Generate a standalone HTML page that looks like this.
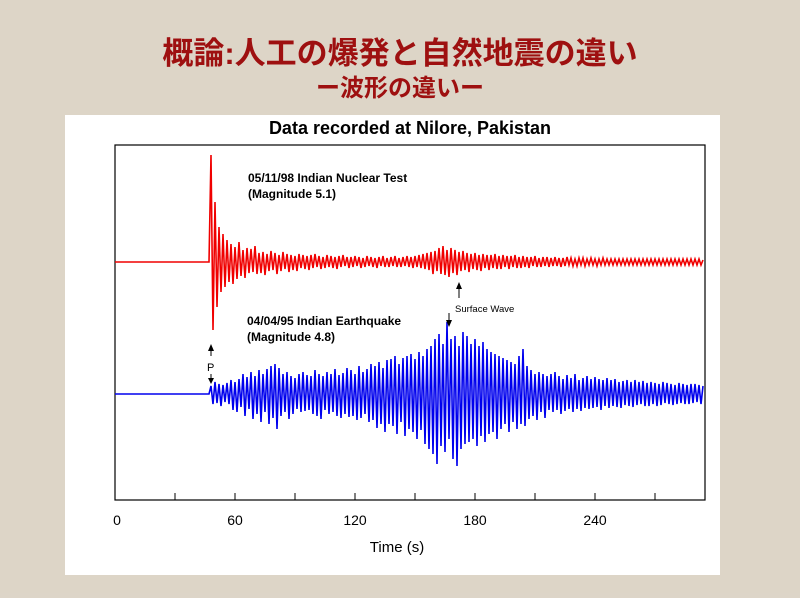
<!DOCTYPE html>
<html><head><meta charset="utf-8"><style>
body{margin:0;width:800px;height:593px;overflow:hidden;background:#ddd5c8;font-family:"Liberation Sans",sans-serif}
</style></head><body>
<svg width="800" height="593" xmlns="http://www.w3.org/2000/svg">
<rect x="0" y="0" width="800" height="593" fill="#ddd5c7"/>
<text x="400" y="64" text-anchor="middle" font-family="'Liberation Sans','Noto Sans CJK JP',sans-serif" font-size="31" fill="#9e1010" font-weight="bold">概論:人工の爆発と自然地震の違い</text>
<text x="400" y="96" text-anchor="middle" font-family="'Liberation Sans','Noto Sans CJK JP',sans-serif" font-size="24" fill="#9e1010" font-weight="bold">ー波形の違いー</text>
<rect x="65" y="115" width="655" height="460" fill="#fff"/>
<text x="410" y="134" text-anchor="middle" font-size="18" font-weight="bold" fill="#000">Data recorded at Nilore, Pakistan</text>
<rect x="115" y="145" width="590" height="355" fill="none" stroke="#000" stroke-width="1.2"/>
<g id="ticks"></g>
<g id="traces"></g>
<text x="248" y="182" font-size="12" font-weight="bold">05/11/98 Indian Nuclear Test</text>
<text x="248" y="198" font-size="12" font-weight="bold">(Magnitude 5.1)</text>
<text x="247" y="325" font-size="12" font-weight="bold">04/04/95 Indian Earthquake</text>
<text x="247" y="341" font-size="12" font-weight="bold">(Magnitude 4.8)</text>
<g>
<line x1="459" y1="284" x2="459" y2="298" stroke="#000"/><path d="M456,289 L459,282 L462,289Z"/>
<text x="455" y="312" font-size="9.5">Surface Wave</text>
<line x1="449" y1="313" x2="449" y2="325" stroke="#000"/><path d="M446,320 L449,327 L452,320Z"/>
</g>
<g>
<line x1="211" y1="346" x2="211" y2="356" stroke="#000"/><path d="M208,351 L211,344 L214,351Z"/>
<text x="207" y="371" font-size="11">P</text>
<line x1="211" y1="374" x2="211" y2="382" stroke="#000"/><path d="M208,378 L211,384 L214,378Z"/>
</g>
<text x="397" y="552" text-anchor="middle" font-size="15">Time (s)</text>
</svg>
<script>
const tickValues=[0,30,60,90,120,150,180,210,240,270];
const tickLabels=["0","","60","","120","","180","","240",""];
const traceStart=47;
const nuclearValues=[0,
107,-68,60,-45,35,-30,28,-25,22,-20,
18,-22,15,-17,20,-14,12,-16,14,-11,
13,-10,16,-12,9,-11,10,-13,8,-9,
11,-8,9,-12,7,-9,10,-7,8,-10,
7,-8,6,-9,8,-6,7,-7,6,-8,
7,-6,8,-5,6,-7,5,-6,7,-5,
6,-6,5,-7,6,-5,7,-4,5,-6,
5,-5,6,-4,5,-6,4,-5,6,-4,
5,-5,4,-6,5,-4,6,-5,4,-5,
5,-4,6,-5,4,-5,5,-4,6,-5,
5,-6,6,-5,7,-6,8,-7,9,-8,
10,-12,11,-9,14,-12,16,-13,12,-15,
14,-11,12,-13,10,-9,11,-8,9,-10,
8,-7,9,-8,7,-9,8,-6,7,-8,
7,-6,8,-7,6,-7,7,-5,6,-7,
6,-5,7,-6,5,-6,6,-5,5,-6,
5,-4,6,-5,4,-5,5,-4,5,-5,
4,-4,5,-4,4,-5,4,-4,5,-3,
4,-4,3,-4,4,-3,4,-4,3,-3,
4,-3,3,-4,3,-3,4,-3,3,-3,
3,-3,3,-3,3,-3,3,-3,3,-3,
3,-3,3,-3,3,-3,3,-3,3,-3,
3,-3,3,-3,3,-3,3,-3,3,-3,
3,-3,3,-3,3,-3,3,-3,3,-3,
3,-3,3,-3,3,-3,2];
const quakeValues=[0,
8,-10,12,-9,10,-12,9,-8,11,-10,
14,-16,12,-18,15,-13,20,-22,17,-15,
22,-25,18,-20,24,-28,20,-18,25,-30,
28,-24,30,-35,26,-22,20,-18,22,-25,
18,-20,16,-15,20,-18,22,-17,19,-16,
18,-20,24,-22,20,-25,18,-16,22,-20,
20,-18,25,-22,19,-24,21,-20,26,-23,
24,-22,20,-26,28,-24,22,-20,25,-28,
30,-26,28,-34,32,-30,26,-38,34,-30,
35,-32,38,-40,30,-28,36,-42,38,-35,
40,-38,35,-45,42,-36,38,-50,45,-55,
48,-60,55,-70,60,-52,50,-58,72,-45,
55,-65,58,-72,48,-55,62,-50,58,-48,
50,-45,55,-52,48,-42,52,-48,45,-40,
42,-38,40,-45,38,-35,36,-30,34,-38,
32,-28,30,-35,38,-30,45,-32,28,-25,
24,-22,20,-26,22,-18,20,-24,18,-16,
20,-18,22,-16,18,-20,15,-17,19,-15,
16,-18,20,-15,14,-17,16,-14,18,-15,
15,-14,17,-13,15,-16,14,-12,16,-14,
14,-12,15,-13,12,-14,13,-11,14,-12,
12,-13,14,-11,12,-10,13,-12,11,-12,
12,-10,11,-12,10,-11,12,-9,11,-10,
10,-11,9,-10,11,-9,10,-10,9,-10,
10,-9,10,-8,9,-10,8];
const NS="http://www.w3.org/2000/svg";
const xScale=t=>115+t*2;
const nuclearBase=262, quakeBase=394;
const ticks=document.getElementById('ticks');
tickValues.forEach((v,i)=>{
  const l=document.createElementNS(NS,'line');
  l.setAttribute('x1',xScale(v));l.setAttribute('x2',xScale(v));
  l.setAttribute('y1',493);l.setAttribute('y2',500);l.setAttribute('stroke','#000');
  
  
  ticks.appendChild(l);
  if(tickLabels[i]){
    const t=document.createElementNS(NS,'text');
    t.setAttribute('x',xScale(v)+(v===0?2:0));t.setAttribute('y',525);
    t.setAttribute('text-anchor','middle');t.setAttribute('font-size','14');
    t.textContent=tickLabels[i];
    
    
    ticks.appendChild(t);
  }
});
function trace(vals,base,color,name){
  let d='M'+xScale(0)+','+base+' L'+xScale(traceStart)+','+base;
  vals.forEach((v,i)=>{d+=' L'+xScale(traceStart+i).toFixed(1)+','+(base-v);});
  const p=document.createElementNS(NS,'path');
  p.setAttribute('d',d);p.setAttribute('fill','none');
  p.setAttribute('stroke',color);p.setAttribute('stroke-width','1.6');
  
  
  document.getElementById('traces').appendChild(p);
}
trace(nuclearValues,nuclearBase,'#f00000','nuclear-trace');
trace(quakeValues,quakeBase,'#0000ee','earthquake-trace');
</script>
</body></html>
